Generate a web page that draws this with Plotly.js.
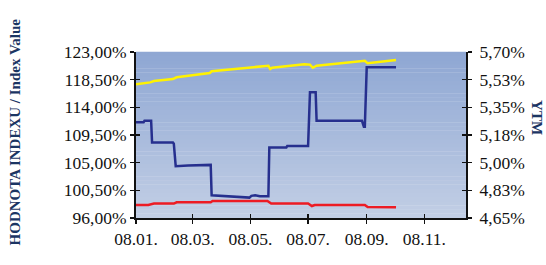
<!DOCTYPE html>
<html>
<head>
<meta charset="utf-8">
<script src="https://cdn.plot.ly/plotly-3.0.1.min.js"></script>
<style>html,body{margin:0;padding:0;background:#fff;}#chart{width:546px;height:265px;}</style>
</head>
<body>
<div id="chart"></div>
<script>
// Yellow series (left axis, index value %)
const yellowDates = ['2008-01-01','2008-01-16','2008-01-20','2008-02-09','2008-02-13','2008-03-19','2008-03-21','2008-04-03','2008-05-20','2008-05-22','2008-05-24','2008-06-27','2008-07-03','2008-07-06','2008-07-10','2008-08-30','2008-09-02','2008-10-02'];
const yellowValues = [117.74,118.06,118.27,118.60,118.88,119.58,119.86,120.07,120.77,120.23,120.44,121.00,120.95,120.44,120.77,121.58,121.16,121.70];

// Red series (left axis, index value %)
const redDates = ['2008-01-01','2008-01-14','2008-01-20','2008-02-10','2008-02-13','2008-03-20','2008-03-22','2008-05-19','2008-05-23','2008-07-01','2008-07-05','2008-07-08','2008-08-30','2008-09-02','2008-10-02'];
const redValues = [98.12,98.12,98.35,98.35,98.56,98.56,98.77,98.77,98.35,98.35,97.95,98.12,98.12,97.79,97.74];

// Blue series (right axis, YTM %)
const blueDates = ['2008-01-01','2008-01-09','2008-01-10','2008-01-17','2008-01-18','2008-02-09','2008-02-10','2008-02-12','2008-02-25','2008-03-09','2008-03-16','2008-03-20','2008-03-21','2008-04-10','2008-04-20','2008-04-30','2008-05-02','2008-05-06','2008-05-11','2008-05-20','2008-05-21','2008-06-08','2008-06-09','2008-07-01','2008-07-03','2008-07-09','2008-07-10','2008-08-27','2008-08-29','2008-08-30','2008-09-01','2008-10-02'];
const blueValues = [5.255,5.255,5.265,5.265,5.128,5.128,5.120,4.978,4.982,4.984,4.986,4.986,4.794,4.785,4.779,4.779,4.790,4.794,4.787,4.787,5.096,5.096,5.106,5.106,5.445,5.445,5.265,5.265,5.227,5.227,5.603,5.603];

// Tick labels
const leftTickVals = [96,100.5,105,109.5,114,118.5,123];
const leftTickText = ['96,00%','100,50%','105,00%','109,50%','114,00%','118,50%','123,00%'];
const rightTickVals = [4.65,4.825,5.0,5.175,5.35,5.525,5.70];
const rightTickText = ['4,65%','4,83%','5,00%','5,18%','5,35%','5,53%','5,70%'];
const xTickVals = ['2008-01-01','2008-03-01','2008-05-01','2008-07-01','2008-09-01','2008-11-01'];
const xTickText = ['08.01.','08.03.','08.05.','08.07.','08.09.','08.11.'];

const leftTitle = 'HODNOTA INDEXU / Index Value';
const rightTitle = 'YTM';

const xRange = ['2008-01-01','2008-12-15'];
const serif = 'Liberation Serif, Times New Roman, serif';
const tickFont = {family: serif, size: 17.5, color: '#111'};

// background gradient strips
function hex(c){return [parseInt(c.slice(1,3),16),parseInt(c.slice(3,5),16),parseInt(c.slice(5,7),16)];}
const cTop = hex('#8ea7d3'), cBot = hex('#c2cee5');
const shapes = [];
const N = 40;
for (let i = 0; i < N; i++) {
  const t = (i + 0.5) / N;
  const c = cBot.map((v, k) => Math.round(v + (cTop[k] - v) * t));
  shapes.push({type: 'rect', xref: 'paper', yref: 'paper', x0: 0, x1: 1, y0: i / N, y1: (i + 1) / N + 0.002,
    fillcolor: `rgb(${c[0]},${c[1]},${c[2]})`, line: {width: 0}, layer: 'below'});
}

const traces = [
  {x: yellowDates, y: yellowValues, type: 'scatter', mode: 'lines', line: {color: '#fff200', width: 2.5}, xaxis: 'x', yaxis: 'y'},
  {x: redDates, y: redValues, type: 'scatter', mode: 'lines', line: {color: '#ed1c24', width: 2.5}, xaxis: 'x', yaxis: 'y'},
  {x: blueDates, y: blueValues, type: 'scatter', mode: 'lines', line: {color: '#262f8e', width: 2.5}, xaxis: 'x', yaxis: 'y2'},
  // invisible helpers for inner tick halves
  {x: blueDates, y: blueValues, type: 'scatter', mode: 'lines', line: {width: 0}, opacity: 0, hoverinfo: 'skip', xaxis: 'x2', yaxis: 'y3'},
  {x: blueDates, y: blueValues, type: 'scatter', mode: 'lines', line: {width: 0}, opacity: 0, hoverinfo: 'skip', xaxis: 'x2', yaxis: 'y4'}
];

const layout = {
  width: 546, height: 265,
  margin: {l: 136, r: 80, t: 52, b: 47},
  paper_bgcolor: '#ffffff',
  plot_bgcolor: 'rgba(0,0,0,0)',
  showlegend: false,
  separators: ', ',
  shapes: shapes,
  xaxis: {type: 'date', range: xRange, tickvals: xTickVals, ticktext: xTickText, ticks: 'outside', ticklen: 4, tickwidth: 1.5, tickcolor: '#111',
    showline: true, linecolor: '#111', linewidth: 2, showgrid: false, zeroline: false, tickfont: tickFont, fixedrange: true},
  xaxis2: {type: 'date', range: xRange, overlaying: 'x', anchor: 'y3', tickvals: xTickVals, ticks: 'inside', ticklen: 4, tickwidth: 1.5, tickcolor: '#111',
    showticklabels: false, showline: false, showgrid: false, zeroline: false},
  yaxis: {range: [96, 123], tickvals: leftTickVals, ticktext: leftTickText, ticks: 'outside', ticklen: 4, tickwidth: 1.5, tickcolor: '#111',
    showline: true, linecolor: '#111', linewidth: 2, showgrid: false, zeroline: false, tickfont: tickFont},
  yaxis2: {range: [4.65, 5.70], overlaying: 'y', side: 'right', tickvals: rightTickVals, ticktext: rightTickText, ticks: 'outside', ticklen: 4, tickwidth: 1.5, tickcolor: '#111',
    showline: true, linecolor: '#111', linewidth: 2, showgrid: false, zeroline: false, tickfont: tickFont, ticklabelstandoff: 4},
  yaxis3: {range: [96, 123], overlaying: 'y', side: 'left', anchor: 'x2', tickvals: leftTickVals, ticks: 'inside', ticklen: 4, tickwidth: 1.5, tickcolor: '#111',
    showticklabels: false, showline: false, showgrid: false, zeroline: false},
  yaxis4: {range: [4.65, 5.70], overlaying: 'y', side: 'right', anchor: 'x2', tickvals: rightTickVals, ticks: 'inside', ticklen: 4, tickwidth: 1.5, tickcolor: '#111',
    showticklabels: false, showline: false, showgrid: false, zeroline: false},
  annotations: [
    {text: '<b>' + leftTitle + '</b>', xref: 'paper', yref: 'paper', x: -0.367, y: 0.521, xanchor: 'center', yanchor: 'middle', textangle: -90,
      showarrow: false, font: {family: serif, size: 15, color: '#1b3563'}},
    {text: '<b>' + rightTitle + '</b>', xref: 'paper', yref: 'paper', x: 1.215, y: 0.602, xanchor: 'center', yanchor: 'middle', textangle: 90,
      showarrow: false, font: {family: serif, size: 15, color: '#1b3563'}}
  ]
};

Plotly.newPlot('chart', traces, layout, {staticPlot: true, displayModeBar: false});
</script>
</body>
</html>
